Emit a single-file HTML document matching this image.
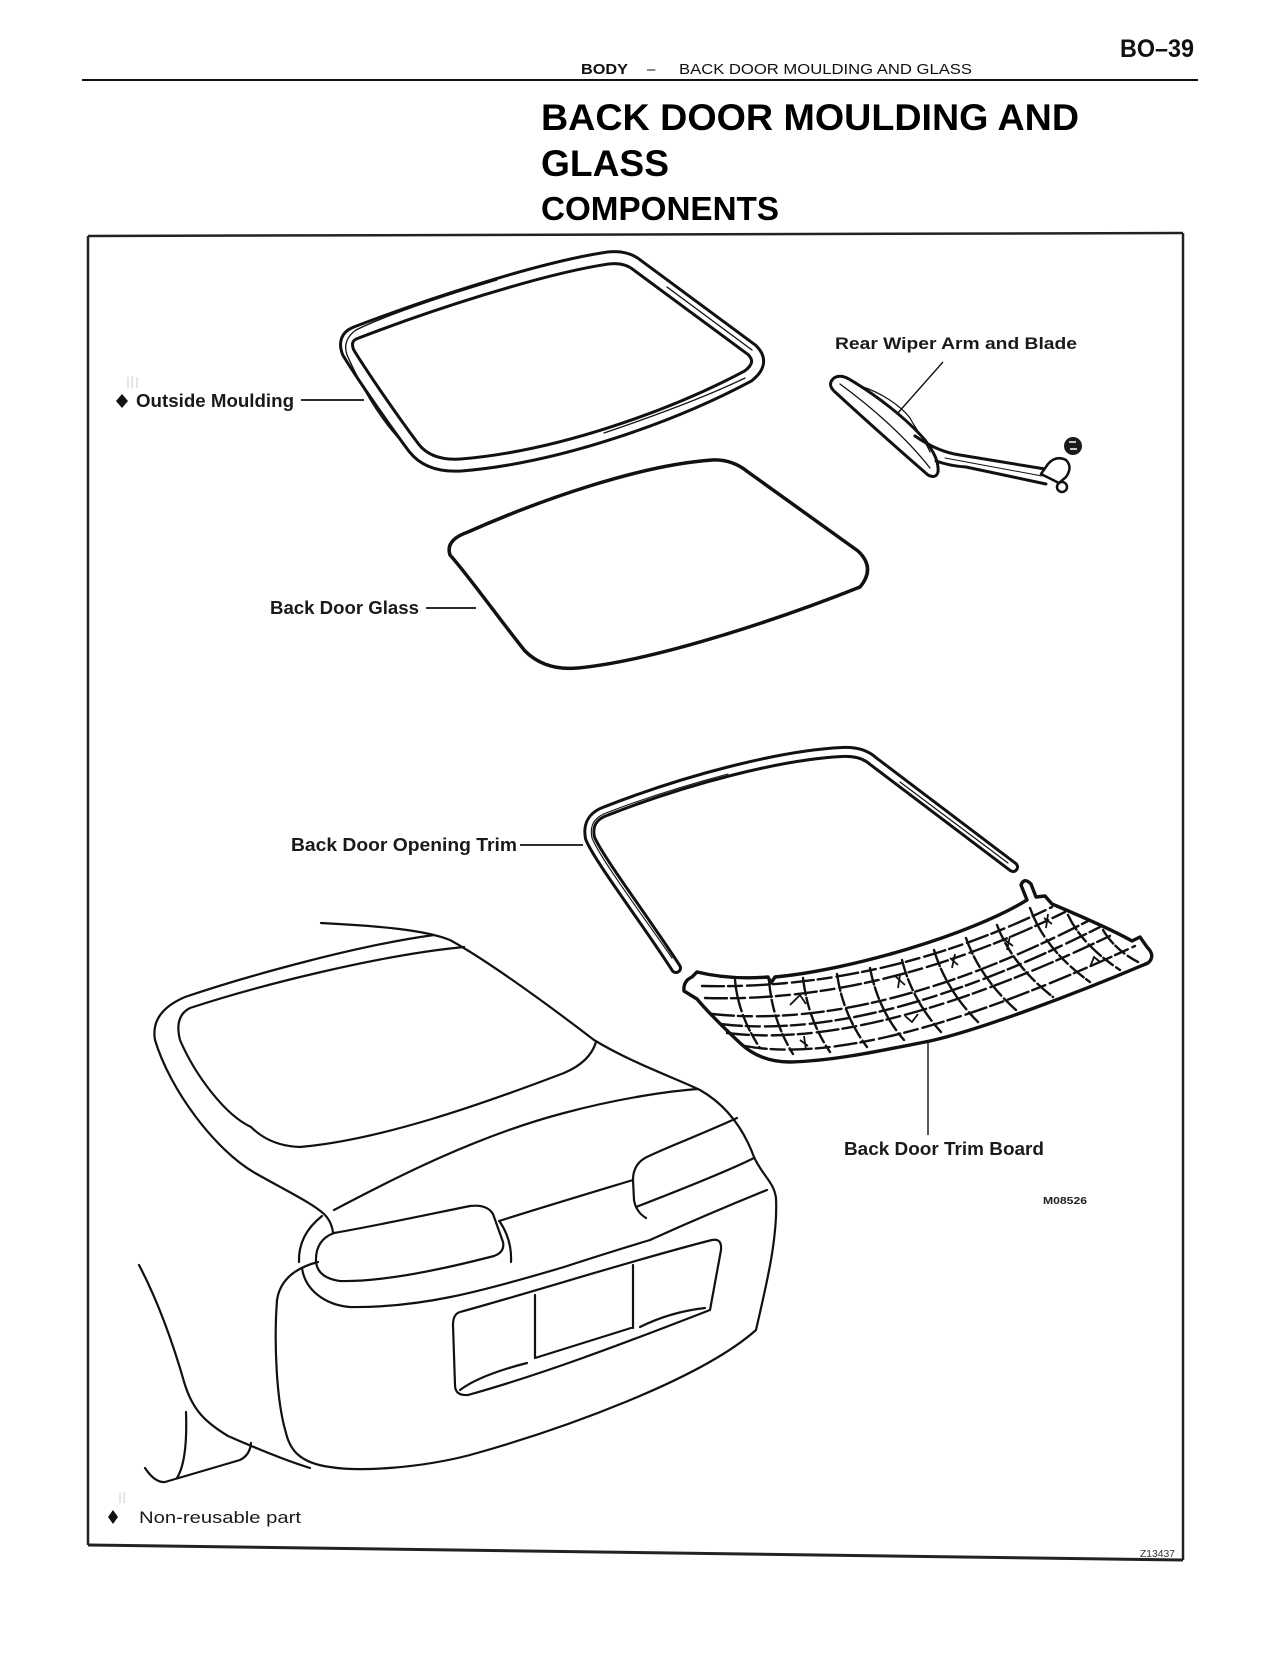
<!DOCTYPE html>
<html>
<head>
<meta charset="utf-8">
<style>
  html,body{margin:0;padding:0;background:#fff;}
  svg{display:block;}
  text{font-family:"Liberation Sans", Arial, sans-serif;}
</style>
</head>
<body>
<svg width="1280" height="1656" viewBox="0 0 1280 1656" xmlns="http://www.w3.org/2000/svg">
  <rect x="0" y="0" width="1280" height="1656" fill="#fff"/>

  <!-- Header -->
  <text x="1120" y="57" font-size="25" font-weight="bold" fill="#111" textLength="74" lengthAdjust="spacingAndGlyphs">BO–39</text>
  <text x="581" y="74" font-size="15" font-weight="bold" fill="#111" textLength="47" lengthAdjust="spacingAndGlyphs">BODY</text>
  <text x="647" y="74" font-size="15" fill="#111">–</text>
  <text x="679" y="74" font-size="15" fill="#111" textLength="293" lengthAdjust="spacingAndGlyphs">BACK DOOR MOULDING AND GLASS</text>
  <line x1="82" y1="80" x2="1198" y2="80" stroke="#111" stroke-width="2"/>

  <text x="541" y="130" font-size="37" font-weight="bold" fill="#000" textLength="538" lengthAdjust="spacingAndGlyphs">BACK DOOR MOULDING AND</text>
  <text x="541" y="176" font-size="37" font-weight="bold" fill="#000" textLength="128" lengthAdjust="spacingAndGlyphs">GLASS</text>
  <text x="541" y="220" font-size="33" font-weight="bold" fill="#000" textLength="238" lengthAdjust="spacingAndGlyphs">COMPONENTS</text>

  <!-- Frame -->
  <g stroke="#222" stroke-width="2.5" fill="none">
    <line x1="88" y1="236" x2="1183" y2="233"/>
    <line x1="88" y1="236" x2="88" y2="1545"/>
    <line x1="1183" y1="233" x2="1183" y2="1560"/>
    <line x1="88" y1="1545" x2="1183" y2="1560" stroke-width="3"/>
  </g>

  <!-- Outside Moulding -->
  <g fill="none" stroke-linejoin="round" stroke-linecap="round">
    <path d="M 355,333 C 425,306 540,268 608,258 Q 626,256 637,265 L 752,350 Q 765,363 748,376 C 675,415 560,457 461,465 Q 429,467 414,448 C 390,416 360,372 348,352 Q 343,338 355,333 Z" stroke="#111" stroke-width="15"/>
    <path d="M 355,333 C 425,306 540,268 608,258 Q 626,256 637,265 L 752,350 Q 765,363 748,376 C 675,415 560,457 461,465 Q 429,467 414,448 C 390,416 360,372 348,352 Q 343,338 355,333 Z" stroke="#fff" stroke-width="9"/>
    <path d="M 497,280 C 430,300 380,318 356,330 Q 342,340 347,355 C 365,395 385,425 404,444" stroke="#111" stroke-width="1.3"/>
    <path d="M 667,287 L 752,350" stroke="#111" stroke-width="1.3"/>
    <path d="M 604,433 C 660,414 710,395 745,378" stroke="#111" stroke-width="1.3"/>
  </g>
  <polygon points="122,394 128,401 122,408 116,401" fill="#111"/>
  <text x="136" y="407" font-size="18" font-weight="bold" fill="#1a1a1a" textLength="158" lengthAdjust="spacingAndGlyphs">Outside Moulding</text>
  <line x1="301" y1="400" x2="364" y2="400" stroke="#111" stroke-width="1.8"/>
  <g stroke="#ccc" stroke-width="1"><line x1="128" y1="377" x2="128" y2="388"/><line x1="132" y1="376" x2="132" y2="388"/><line x1="137" y1="377" x2="137" y2="388"/></g>

  <!-- Rear Wiper -->
  <text x="835" y="349" font-size="17" font-weight="bold" fill="#1a1a1a" textLength="242" lengthAdjust="spacingAndGlyphs">Rear Wiper Arm and Blade</text>
  <line x1="943" y1="362" x2="897" y2="414" stroke="#111" stroke-width="1.4"/>
  <g fill="none" stroke="#111" stroke-linejoin="round" stroke-linecap="round">
    <path d="M 834,378 Q 840,374 849,379 C 876,395 906,418 925,440 C 934,452 939,462 938,472 Q 936,479 928,475 C 905,455 860,415 834,391 Q 827,384 834,378 Z" stroke-width="3" fill="#fff"/>
    <path d="M 840,384 C 870,406 905,436 930,468" stroke-width="1.3"/>
    <path d="M 860,386 C 880,392 900,405 910,418 C 915,428 925,440 930,452" stroke-width="1.2"/>
    <path d="M 915,436 Q 938,452 960,455 L 1045,469" stroke-width="3"/>
    <path d="M 936,461 Q 950,466 966,467 L 1046,484" stroke-width="3"/>
    <path d="M 945,458 L 1042,476" stroke-width="1"/>
    <path d="M 1041,474 L 1048,464 Q 1056,455 1066,460 Q 1073,467 1066,477 L 1059,483 Z" stroke-width="2.5" fill="#fff"/>
    <circle cx="1062" cy="487" r="5" stroke-width="2.5" fill="#fff"/>
  </g>
  <circle cx="1073" cy="446" r="9" fill="#1a1a1a"/>
  <path d="M 1069,442 L 1076,442 M 1070,449 L 1077,449" stroke="#fff" stroke-width="1.5"/>

  <!-- Back Door Glass -->
  <path d="M 468,532 C 540,500 640,465 712,460 Q 732,459 748,472 L 858,551 Q 876,568 860,587 C 790,615 660,660 578,668 Q 545,671 525,651 C 500,620 468,575 450,555 Q 445,540 468,532 Z" fill="none" stroke="#111" stroke-width="3.5" stroke-linejoin="round"/>
  <text x="270" y="614" font-size="18" font-weight="bold" fill="#1a1a1a" textLength="149" lengthAdjust="spacingAndGlyphs">Back Door Glass</text>
  <line x1="426" y1="608" x2="476" y2="608" stroke="#111" stroke-width="1.8"/>

  <!-- Back Door Opening Trim -->
  <g fill="none" stroke-linecap="round" stroke-linejoin="round">
    <path d="M 676,968 C 645,920 598,858 590,838 Q 586,818 606,811 C 685,780 780,755 842,752 Q 862,751 873,761 L 1013,867" stroke="#111" stroke-width="12"/>
    <path d="M 676,968 C 645,920 598,858 590,838 Q 586,818 606,811 C 685,780 780,755 842,752 Q 862,751 873,761 L 1013,867" stroke="#fff" stroke-width="6"/>
    <path d="M 672,958 C 640,912 600,858 592,838 Q 588,820 606,813 C 650,796 690,784 728,774" stroke="#111" stroke-width="1.1"/>
    <path d="M 900,782 L 1008,863" stroke="#111" stroke-width="1.1"/>
  </g>
  <text x="291" y="851" font-size="18" font-weight="bold" fill="#1a1a1a" textLength="226" lengthAdjust="spacingAndGlyphs">Back Door Opening Trim</text>
  <line x1="520" y1="845" x2="583" y2="845" stroke="#111" stroke-width="1.8"/>

  <!-- Back Door Trim Board -->
  <path d="M 697,972 Q 730,980 768,977 L 771,983 L 775,977 C 850,970 970,935 1027,900 L 1021,885 Q 1024,877 1031,884 L 1036,897 L 1045,896 L 1052,904 C 1090,920 1118,933 1132,941 L 1140,937 L 1147,947 Q 1156,956 1148,963 C 1080,992 980,1030 930,1041 C 870,1053 830,1061 790,1062 Q 760,1062 740,1043 C 722,1026 707,1011 697,999 L 684,991 Q 683,981 692,977 Z" fill="#fff" stroke="#111" stroke-width="3.4" stroke-linejoin="round"/>
  <g fill="none" stroke="#111" stroke-width="2.4" stroke-linecap="round" stroke-dasharray="17 3 12 4">
    <path d="M 735,980 Q 738,1015 760,1048"/>
    <path d="M 769,980 Q 772,1020 793,1054"/>
    <path d="M 803,978 Q 808,1020 830,1052"/>
    <path d="M 837,974 Q 843,1015 867,1047"/>
    <path d="M 870,968 Q 878,1010 904,1040"/>
    <path d="M 902,960 Q 912,1000 941,1032"/>
    <path d="M 934,950 Q 946,990 978,1022"/>
    <path d="M 966,938 Q 980,978 1016,1010"/>
    <path d="M 997,925 Q 1012,965 1053,997"/>
    <path d="M 1030,908 Q 1045,950 1090,982"/>
    <path d="M 1068,915 Q 1082,945 1120,970"/>
    <path d="M 1103,930 Q 1115,950 1138,962"/>
  </g>
  <g fill="none" stroke="#111" stroke-width="2.4" stroke-linecap="round" stroke-dasharray="22 4 14 5">
    <path d="M 702,986 Q 882,990 1052,907"/>
    <path d="M 705,998 Q 880,1003 1065,912"/>
    <path d="M 712,1014 Q 874,1031 1088,921"/>
    <path d="M 720,1024 Q 872,1042 1100,927"/>
    <path d="M 727,1033 Q 871,1051 1114,934"/>
    <path d="M 745,1046 Q 870,1069 1135,946"/>
  </g>
  <g fill="none" stroke="#111" stroke-width="1.8">
    <path d="M 790,1005 L 800,995 L 806,1004"/>
    <path d="M 895,976 L 905,985 M 900,975 L 898,988"/>
    <path d="M 950,958 L 958,965 M 955,954 L 952,968"/>
    <path d="M 1005,940 L 1013,946 M 1010,936 L 1007,950"/>
    <path d="M 1044,918 L 1052,924 M 1048,914 L 1046,928"/>
    <path d="M 800,1040 L 808,1046 M 804,1036 L 806,1050"/>
    <path d="M 905,1016 L 912,1022 L 918,1014"/>
    <path d="M 1090,967 L 1094,957 L 1100,962"/>
  </g>
  <line x1="928" y1="1041" x2="928" y2="1135" stroke="#111" stroke-width="1.4"/>
  <text x="844" y="1155" font-size="18" font-weight="bold" fill="#1a1a1a" textLength="200" lengthAdjust="spacingAndGlyphs">Back Door Trim Board</text>
  <text x="1043" y="1204" font-size="10" font-weight="bold" fill="#222" textLength="44" lengthAdjust="spacingAndGlyphs">M08526</text>

  <!-- Car -->
  <g fill="none" stroke="#111" stroke-width="2.2" stroke-linecap="round" stroke-linejoin="round">
    <path d="M 321,923 C 380,926 425,930 450,940 C 490,962 555,1010 594,1040 C 630,1062 675,1078 700,1090 C 728,1106 744,1130 754,1157 C 762,1175 774,1182 776,1198 C 778,1240 765,1290 756,1330 C 700,1380 560,1430 470,1455 C 420,1468 360,1472 330,1467 C 300,1463 290,1450 286,1433 C 276,1400 274,1340 277,1300 C 280,1280 295,1268 318,1262"/>
    <path d="M 434,935 C 360,945 250,975 185,997 Q 150,1012 155,1040 C 170,1090 215,1150 255,1173 C 285,1190 312,1203 324,1214 Q 332,1222 333,1233"/>
    <path d="M 464,947 C 380,955 260,985 190,1008 Q 174,1016 180,1040 C 195,1075 225,1115 251,1127 Q 270,1146 300,1147 C 380,1140 480,1105 564,1073 Q 590,1062 596,1042"/>
    <path d="M 334,1210 C 400,1175 480,1135 564,1113 C 620,1098 670,1091 698,1089"/>
    <path d="M 737,1118 C 700,1135 660,1150 645,1158 Q 633,1165 633,1180 L 634,1200 Q 636,1212 646,1218"/>
    <path d="M 636,1207 C 680,1190 730,1170 754,1158"/>
    <path d="M 499,1221 C 540,1208 590,1193 633,1180"/>
    <path d="M 650,1240 C 690,1222 730,1205 767,1190"/>
    <path d="M 302,1268 C 305,1290 325,1305 350,1307 C 420,1308 480,1292 564,1267 C 610,1252 630,1246 650,1240"/>
    <path d="M 334,1233 C 380,1225 440,1212 470,1206 Q 487,1204 493,1214 L 503,1242 Q 505,1252 494,1256 C 440,1270 380,1282 340,1281 Q 318,1278 316,1262 Q 315,1240 334,1233 Z"/>
    <path d="M 500,1222 Q 512,1240 511,1262"/>
    <path d="M 322,1216 Q 298,1235 299,1262"/>
    <path d="M 460,1312 C 540,1290 640,1258 712,1240 Q 722,1238 721,1250 L 710,1310 C 620,1345 540,1375 468,1395 Q 455,1396 455,1385 L 453,1325 Q 453,1314 460,1312 Z"/>
    <path d="M 535,1295 L 535,1358 L 631,1328 M 633,1265 L 633,1328"/>
    <path d="M 460,1390 Q 480,1375 527,1363"/>
    <path d="M 640,1327 Q 670,1312 705,1308"/>
    <path d="M 139,1265 C 160,1305 175,1350 185,1385 C 193,1410 205,1422 228,1436 C 260,1450 290,1462 310,1468"/>
    <path d="M 186,1412 C 187,1440 185,1465 177,1478"/>
    <path d="M 145,1468 Q 155,1483 165,1482 L 240,1460 Q 250,1455 251,1443"/>
  </g>

  <!-- Legend -->
  <g stroke="#ccc" stroke-width="1"><line x1="120" y1="1493" x2="120" y2="1503"/><line x1="124" y1="1492" x2="124" y2="1503"/></g>
  <polygon points="113,1510 118,1517 113,1524 108,1517" fill="#111"/>
  <text x="139" y="1523" font-size="17" fill="#1a1a1a" textLength="162" lengthAdjust="spacingAndGlyphs">Non-reusable part</text>
  <text x="1140" y="1557" font-size="10" fill="#333" textLength="35" lengthAdjust="spacingAndGlyphs">Z13437</text>
</svg>
</body>
</html>
